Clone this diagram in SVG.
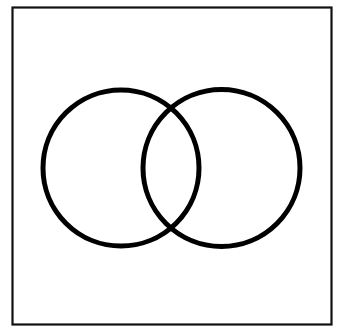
<svg xmlns="http://www.w3.org/2000/svg" width="337" height="327" viewBox="0 0 337 327">
<style>
.frame{fill:none;stroke:#111;stroke-width:2.2}
.ring{fill:none;stroke:#000;stroke-width:5}
</style>
<rect width="337" height="327" fill="#fff"/>
<rect class="frame" x="12.5" y="7.5" width="319" height="317"/>
<g id="circle-left"><circle class="ring" cx="121" cy="168" r="78"/></g>
<g id="circle-right"><circle class="ring" cx="221.5" cy="168" r="78.5"/></g>
<g id="connectors"></g>
</svg>
